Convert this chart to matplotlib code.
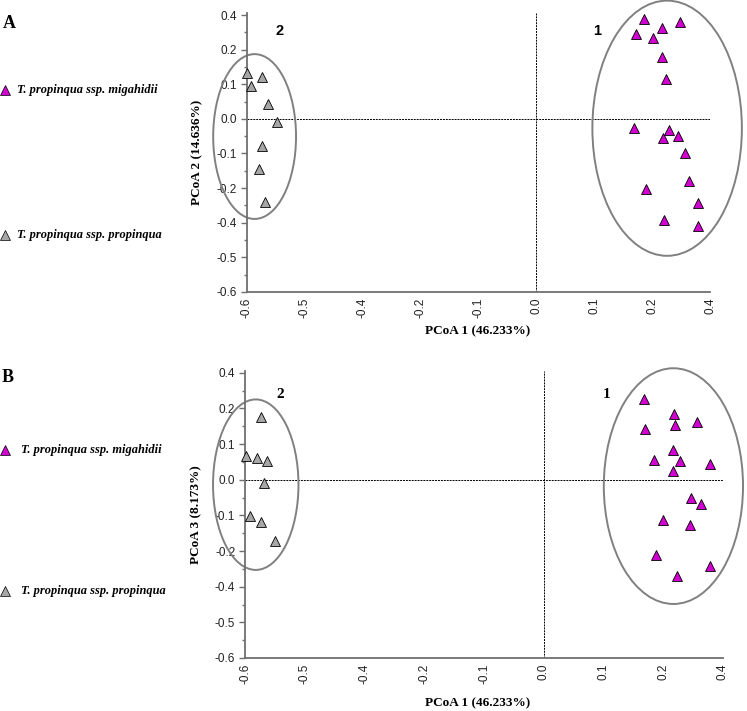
import matplotlib
matplotlib.use("Agg")
import matplotlib.pyplot as plt
from matplotlib.patches import Ellipse
from matplotlib.lines import Line2D
import numpy as np

W, H = 747, 711

# Tick labels (evenly spaced positions, as printed in the figure)
x_tick_labels = ["-0.6", "-0.5", "-0.4", "-0.2", "-0.1", "0.0", "0.1", "0.2", "0.4"]
y_tick_labels = ["-0.6", "-0.5", "-0.4", "-0.2", "-0.1", "0.0", "0.1", "0.2", "0.4"]

# Panel A (coordinates in tick-position units, 0..8)
a_prop_x = [0.01, 0.08, 0.27, 0.37, 0.52, 0.26, 0.21, 0.32]
a_prop_y = [6.33, 5.95, 6.20, 5.43, 4.91, 4.22, 3.54, 2.60]
a_mig_x = [6.86, 7.48, 7.17, 6.72, 7.01, 7.17, 7.24, 6.68, 7.29, 7.44, 7.19,
           7.57, 7.63, 6.89, 7.79, 7.20, 7.79]
a_mig_y = [7.88, 7.80, 7.62, 7.45, 7.33, 6.78, 6.15, 4.73, 4.68, 4.50, 4.44,
           4.00, 3.22, 2.98, 2.58, 2.08, 1.91]

# Panel B
b_prop_x = [0.26, 0.01, 0.20, 0.37, 0.31, 0.08, 0.26, 0.51]
b_prop_y = [6.75, 5.67, 5.62, 5.52, 4.90, 3.99, 3.81, 3.29]
b_mig_x = [6.68, 7.18, 7.57, 6.70, 7.19, 7.16, 6.85, 7.28, 7.78, 7.17, 7.47,
           7.63, 7.00, 7.45, 6.88, 7.78, 7.23]
b_mig_y = [7.26, 6.83, 6.63, 6.43, 6.54, 5.83, 5.56, 5.52, 5.45, 5.24, 4.49,
           4.31, 3.88, 3.73, 2.89, 2.59, 2.31]

MAG = "#D000D0"
GREY = "#A6A6A6"
SPINE = "#6F6F6F"
ELL = "#808080"

fig = plt.figure(figsize=(W / 100, H / 100), dpi=100)


def fx(px):
    return px / W


def fy(py):
    return 1 - py / H


def make_axes(left, right, y8, y0):
    step = (y0 - y8) / 8
    top = 8.06
    ytop = y0 - top * step
    ax = fig.add_axes([fx(left), fy(y0), (right - left) / W, (y0 - ytop) / H])
    ax.set_xlim(0, 8)
    ax.set_ylim(0, top)
    return ax


def style(ax):
    for s in ["top", "right"]:
        ax.spines[s].set_visible(False)
    for s in ["left", "bottom"]:
        ax.spines[s].set_color(SPINE)
        ax.spines[s].set_linewidth(1.3)
    ax.set_xticks(np.arange(9))
    ax.set_xticklabels(x_tick_labels, rotation=90, fontsize=8.5,
                       family="Liberation Sans", color="#222222")
    ax.set_yticks(np.arange(9))
    ax.set_yticklabels(y_tick_labels, fontsize=8.5, family="Liberation Sans",
                       color="#222222")
    ax.set_yticks(np.arange(0.5, 8, 1), minor=True)
    ax.tick_params(axis="x", length=0, pad=4)
    ax.tick_params(axis="y", which="major", length=4.5, width=1.0,
                   color=SPINE, pad=2.5, direction="out")
    ax.tick_params(axis="y", which="minor", length=2.5, width=1.0,
                   color=SPINE, direction="out")
    ax.axhline(5, color="black", lw=0.7, ls=(0, (2, 1)), zorder=1)
    ax.axvline(5, color="black", lw=0.7, ls=(0, (2, 1)), zorder=1)


mk = dict(marker="^", linestyle="none", markersize=6.8,
          markeredgecolor="black", markeredgewidth=0.6, zorder=3, clip_on=False)

# ---------- Panel A ----------
axA = make_axes(246.5, 710, 15, 292)
style(axA)
axA.plot(a_prop_x, a_prop_y, markerfacecolor=GREY, **mk)
axA.plot(a_mig_x, a_mig_y, markerfacecolor=MAG, **mk)
axA.add_patch(Ellipse((0.14, 4.49), 1.43, 4.76, fill=False, ec=ELL, lw=1.4,
                      clip_on=False, zorder=2))
axA.add_patch(Ellipse((7.26, 4.73), 2.58, 7.37, fill=False, ec=ELL, lw=1.4,
                      clip_on=False, zorder=2))
fig.text(fx(279.5), fy(31), "2", fontsize=10.5, fontweight="bold",
         family="Liberation Sans", ha="center", va="center")
fig.text(fx(597), fy(31), "1", fontsize=10.5, fontweight="bold",
         family="Liberation Sans", ha="center", va="center")
fig.text(fx(478), fy(331.5), "PCoA 1 (46.233%)", fontsize=9.5,
         fontweight="bold", family="Liberation Serif", ha="center", va="center")
fig.text(fx(197), fy(152), "PCoA 2 (14.636%)", fontsize=9.5,
         fontweight="bold", family="Liberation Serif", ha="center",
         va="center", rotation=90)

# ---------- Panel B ----------
axB = make_axes(245, 723, 372.7, 658)
style(axB)
axB.plot(b_prop_x, b_prop_y, markerfacecolor=GREY, **mk)
axB.plot(b_mig_x, b_mig_y, markerfacecolor=MAG, **mk)
axB.add_patch(Ellipse((0.18, 4.86), 1.43, 4.78, fill=False, ec=ELL, lw=1.4,
                      clip_on=False, zorder=2))
axB.add_patch(Ellipse((7.17, 4.82), 2.33, 6.61, fill=False, ec=ELL, lw=1.4,
                      clip_on=False, zorder=2))
fig.text(fx(280), fy(394.5), "2", fontsize=11, fontweight="bold",
         family="Liberation Serif", ha="center", va="center")
fig.text(fx(607), fy(394.5), "1", fontsize=11, fontweight="bold",
         family="Liberation Serif", ha="center", va="center")
fig.text(fx(478), fy(703), "PCoA 1 (46.233%)", fontsize=9.5,
         fontweight="bold", family="Liberation Serif", ha="center", va="center")
fig.text(fx(196), fy(515), "PCoA 3 (8.173%)", fontsize=9.5,
         fontweight="bold", family="Liberation Serif", ha="center",
         va="center", rotation=90)

# ---------- Panel letters and legends ----------
fig.text(fx(3), fy(23), "A", fontsize=13, fontweight="bold",
         family="Liberation Serif", ha="left", va="center")
fig.text(fx(2), fy(377), "B", fontsize=13, fontweight="bold",
         family="Liberation Serif", ha="left", va="center")

legend_rows = [
    (90, MAG, "T. propinqua ssp. migahidii", 17),
    (235, GREY, "T. propinqua ssp. propinqua", 17),
    (450, MAG, "T. propinqua ssp. migahidii", 21),
    (591, GREY, "T. propinqua ssp. propinqua", 21),
]
for py, col, txt, tx in legend_rows:
    fig.add_artist(Line2D([fx(5)], [fy(py)], transform=fig.transFigure,
                          marker="^", markersize=6.5, markerfacecolor=col,
                          markeredgecolor="black", markeredgewidth=0.5,
                          linestyle="none"))
    fig.text(fx(tx), fy(py), txt, fontsize=8.9, fontweight="bold",
             style="italic", family="Liberation Serif", ha="left",
             va="center")

fig.savefig("out.png", dpi=100)
